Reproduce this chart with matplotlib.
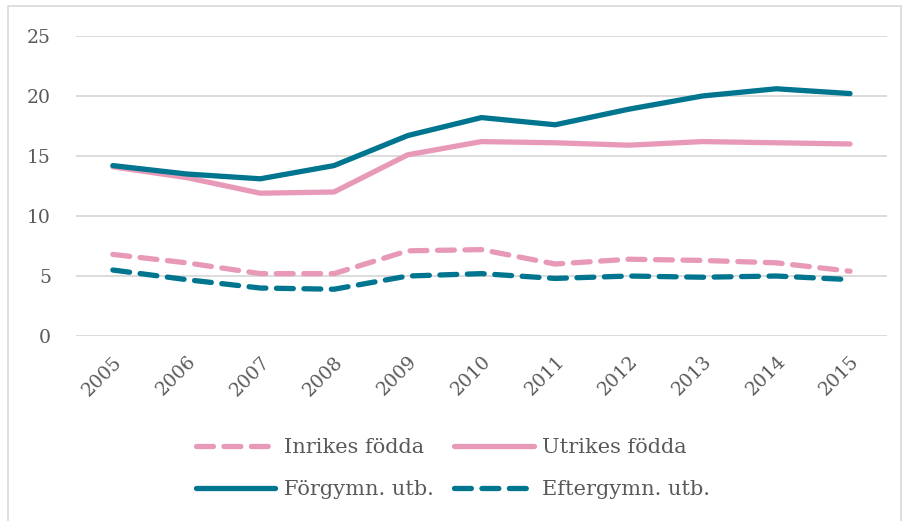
import matplotlib.pyplot as plt
from matplotlib.patches import Rectangle

years = [str(y) for y in range(2005, 2016)]
inrikes = [6.8, 6.1, 5.2, 5.2, 7.1, 7.2, 6.0, 6.4, 6.3, 6.1, 5.4]
utrikes = [14.1, 13.2, 11.9, 12.0, 15.1, 16.2, 16.1, 15.9, 16.2, 16.1, 16.0]
forgymn = [14.2, 13.5, 13.1, 14.2, 16.7, 18.2, 17.6, 18.9, 20.0, 20.6, 20.2]
eftergymn = [5.5, 4.7, 4.0, 3.9, 5.0, 5.2, 4.8, 5.0, 4.9, 5.0, 4.7]

pink = "#E899B8"
teal = "#00758F"
txt = "#595959"

plt.rcParams["font.family"] = ["DejaVu Serif"]

fig = plt.figure(figsize=(9.06, 5.21), dpi=100)
ax = fig.add_axes([0.0839, 0.355, 0.895, 0.576])

x = range(len(years))
lw = 3.8
dash = dict(linestyle=(0, (3.2, 2.0)), dash_capstyle="round")
l1, = ax.plot(x, inrikes, color=pink, lw=lw, label="Inrikes födda", **dash)
l2, = ax.plot(x, utrikes, color=pink, lw=lw, label="Utrikes födda", solid_capstyle="round")
l3, = ax.plot(x, forgymn, color=teal, lw=lw, label="Förgymn. utb.", solid_capstyle="round")
l4, = ax.plot(x, eftergymn, color=teal, lw=lw, label="Eftergymn. utb.", **dash)

ax.set_xlim(-0.5, len(years) - 0.5)
ax.set_ylim(0, 25)
ax.set_yticks(range(0, 26, 5))
ax.set_xticks(list(x))
ax.set_xticklabels(years, rotation=45, ha="right", rotation_mode="anchor")
ax.tick_params(axis="both", length=0, labelsize=13.5, colors=txt)
ax.tick_params(axis="y", pad=18)
ax.tick_params(axis="x", pad=12)
ax.grid(axis="y", color="#D9D9D9", lw=1.3)
ax.set_axisbelow(True)
for s in ax.spines.values():
    s.set_visible(False)

# matplotlib fills legend column-wise, reorder so rows read like the original
handles = [l1, l3, l2, l4]
leg = fig.legend(handles, [h.get_label() for h in handles], loc="center",
                 bbox_to_anchor=(0.5, 0.1), ncol=2, frameon=False,
                 fontsize=15, handlelength=3.8, columnspacing=1.0, handletextpad=0.4,
                 labelspacing=1.1)
for t in leg.get_texts():
    t.set_color(txt)

fig.patches.append(Rectangle((0.009, -0.01), 0.985, 0.998, transform=fig.transFigure,
                             fill=False, edgecolor="#D9D9D9", lw=1.2))

fig.savefig("out.png", dpi=100)
